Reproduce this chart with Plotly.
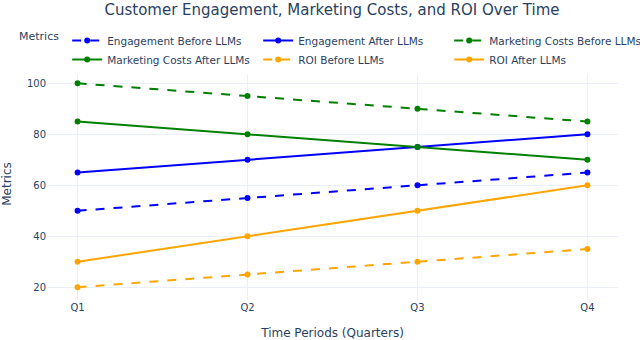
import plotly.graph_objects as go

quarters = ["Q1", "Q2", "Q3", "Q4"]
engagement_before = [50, 55, 60, 65]
engagement_after = [65, 70, 75, 80]
costs_before = [100, 95, 90, 85]
costs_after = [85, 80, 75, 70]
roi_before = [20, 25, 30, 35]
roi_after = [30, 40, 50, 60]

series = [
    ("Engagement Before LLMs", engagement_before, "blue", "dash"),
    ("Engagement After LLMs", engagement_after, "blue", "solid"),
    ("Marketing Costs Before LLMs", costs_before, "green", "dash"),
    ("Marketing Costs After LLMs", costs_after, "green", "solid"),
    ("ROI Before LLMs", roi_before, "orange", "dash"),
    ("ROI After LLMs", roi_after, "orange", "solid"),
]

fig = go.Figure()
for name, vals, color, dash in series:
    fig.add_trace(go.Scatter(
        x=quarters, y=vals, name=name, mode="lines+markers",
        line=dict(color=color, dash=dash, width=2),
        marker=dict(color=color, size=6),
    ))

FONT = "Verdana, DejaVu Sans, sans-serif"
fig.update_layout(
    template="plotly_white",
    width=640, height=340,
    font=dict(family=FONT, size=10, color="#2a3f5f"),
    margin=dict(l=47, r=22, t=68, b=40, autoexpand=False),
    title=dict(text="Customer Engagement, Marketing Costs, and ROI Over Time",
               x=332/640, xanchor="center", xref="container",
               y=1 - 4/340, yanchor="top", yref="container",
               font=dict(size=15)),
    xaxis=dict(title=dict(text="Time Periods (Quarters)", font=dict(size=12),
                          standoff=18),
               range=[-0.18, 3.18]),
    yaxis=dict(title=dict(text="Metrics", font=dict(size=12)),
               range=[15, 106]),
    legend=dict(orientation="h", title=dict(text="Metrics", font=dict(size=11)),
                xref="paper", x=(17 - 47) / 571, xanchor="left",
                yref="paper", y=1 + (68 - 26) / 232, yanchor="top",
                entrywidth=146, font=dict(size=10.5)),
)

fig.write_html("out.html", post_script="document.body.style.margin='0';",
               config={"displayModeBar": False})
